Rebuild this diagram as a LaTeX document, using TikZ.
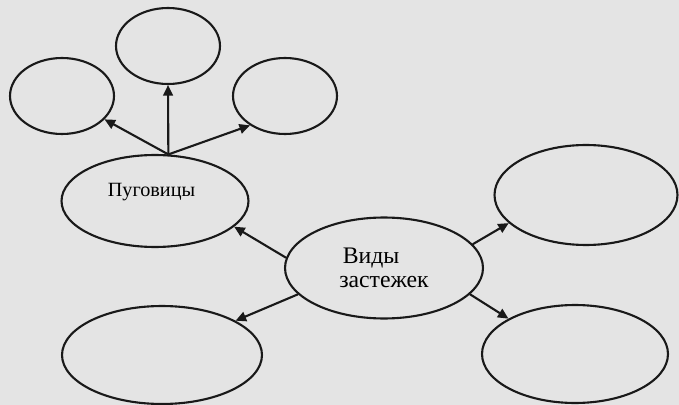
\documentclass[tikz,border=0pt]{standalone}
\usepackage{fontspec}
\setmainfont{Liberation Serif}
\usetikzlibrary{shapes.geometric,arrows.meta}

\definecolor{bggray}{RGB}{228,228,228}
\definecolor{inkgray}{RGB}{25,25,25}

\begin{document}
\begin{tikzpicture}[x=0.02cm,y=-0.02cm,line width=1.2pt,draw=inkgray]
	\tikzstyle{blob}=[draw,shape=ellipse,inner sep=0pt]
	\tikzstyle{small}=[blob,minimum width=2.08cm,minimum height=1.52cm]
	\tikzstyle{link}=[-{Triangle[length=6pt,width=5.5pt]}]

	% background
	\fill[bggray] (0,0) rectangle (679,405);
	\useasboundingbox (0,0) rectangle (679,405);

	% Пуговицы and its three
	\node[blob,minimum width=3.74cm,minimum height=1.84cm,
		label={[xshift=-0.07cm,yshift=0.18cm,font=\fontsize{11.5}{13}\selectfont]center:Пуговицы}](pug) at (155,201){};
	\node[small](pl) at (62,96){};
	\node[small](pt) at (168,46){};
	\node[small](pr) at (285,96){};
	\draw[link] (pug.74) -- (pt.south);
	\draw[link] (pug.74) -- (pl);
	\draw[link] (pug.74) -- (pr.220);

	% центр
	\node[blob,minimum width=3.96cm,minimum height=2.02cm,align=left,
		font=\fontsize{13.5}{13.8}\selectfont](vid) at (384,268){\hspace*{2pt}Виды\\застежек};

	\node[blob,minimum width=3.66cm,minimum height=2cm](ru) at (586,195){};
	\node[blob,minimum width=4cm,minimum height=1.96cm](bl) at (162,355){};
	\node[blob,minimum width=3.72cm,minimum height=1.96cm](br) at (575,354){};

	\draw[link] (vid.174) -- (pug.-18);
	\draw[link] (vid.15) -- (ru.200);
	\draw[link] (vid.197) -- (bl.25);
	\draw[link] (vid.-17) -- (br.152);

\end{tikzpicture}
\end{document}
